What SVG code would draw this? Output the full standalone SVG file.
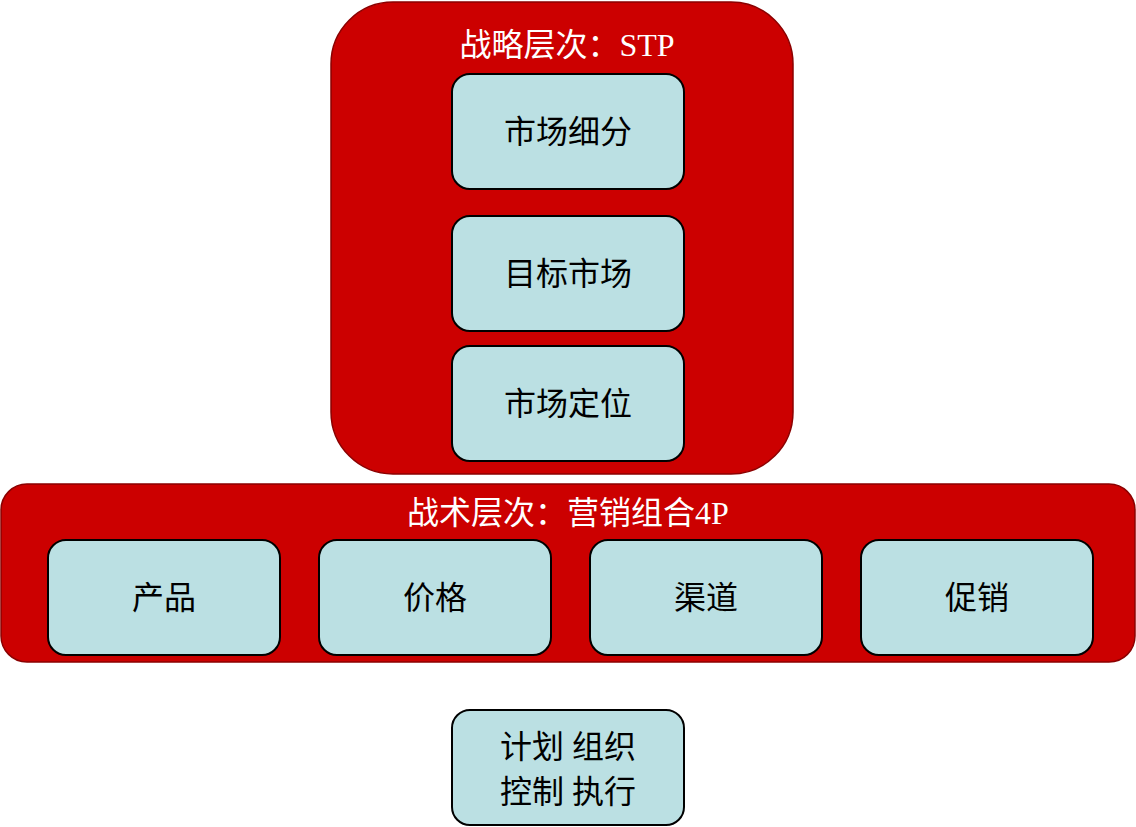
<svg xmlns="http://www.w3.org/2000/svg" width="1136" height="827" viewBox="0 0 1136 827">
<style>
.red{fill:#CC0000;stroke:#8B0000;stroke-width:1.5}
.box{fill:#BBE0E3;stroke:#000;stroke-width:2}
text{font-family:"Liberation Serif","Noto Sans CJK SC",serif;font-size:32px;text-anchor:middle}
.t{fill:#fff}
</style>
<rect width="1136" height="827" fill="#fff"/>
<g id="strategy"><rect class="red" x="331" y="2" width="462" height="472" rx="62"/><text class="t" x="567" y="56">战略层次：STP</text></g>
<g id="tactics"><rect class="red" x="1" y="484" width="1134" height="178" rx="26"/><text class="t" x="568" y="524">战术层次：营销组合4P</text></g>
<g id="n1"><rect class="box" x="452" y="74" width="232" height="115" rx="18"/><text x="568" y="143">市场细分</text></g>
<g id="n2"><rect class="box" x="452" y="216" width="232" height="115" rx="18"/><text x="568" y="285">目标市场</text></g>
<g id="n3"><rect class="box" x="452" y="346" width="232" height="115" rx="18"/><text x="568" y="415">市场定位</text></g>
<g id="p1"><rect class="box" x="48" y="540" width="232" height="115" rx="18"/><text x="164" y="609">产品</text></g>
<g id="p2"><rect class="box" x="319" y="540" width="232" height="115" rx="18"/><text x="435" y="609">价格</text></g>
<g id="p3"><rect class="box" x="590" y="540" width="232" height="115" rx="18"/><text x="706" y="609">渠道</text></g>
<g id="p4"><rect class="box" x="861" y="540" width="232" height="115" rx="18"/><text x="977" y="609">促销</text></g>
<g id="mgmt"><rect class="box" x="452" y="710" width="232" height="115" rx="18"/><text x="568" y="758">计划 组织</text><text x="568" y="803">控制 执行</text></g>
<g id="connectors"/>
</svg>
